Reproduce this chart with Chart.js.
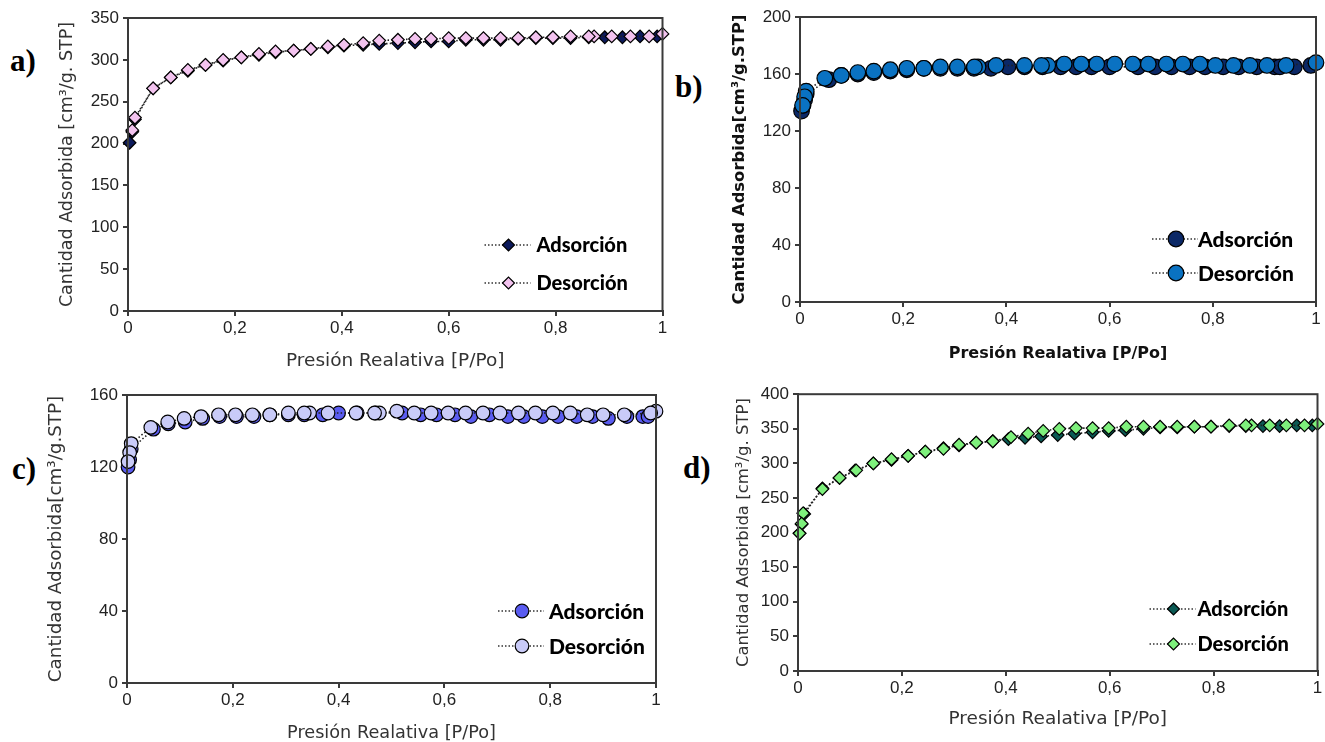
<!DOCTYPE html>
<html>
<head>
<meta charset="utf-8">
<script src="https://cdn.jsdelivr.net/npm/chart.js@4.4.1/dist/chart.umd.min.js"></script>
<style>
html,body{margin:0;padding:0;background:#fff;overflow:hidden;width:1325px;height:742px;}
.panel{position:absolute;}
.lbl{position:absolute;font-family:"Liberation Serif","Times New Roman",serif;font-weight:bold;font-size:31px;color:#000;line-height:1;}
</style>
</head>
<body>
<div class="lbl" style="left:10px;top:45px;">a)</div>
<div class="lbl" style="left:675px;top:71px;">b)</div>
<div class="lbl" style="left:12px;top:453px;">c)</div>
<div class="lbl" style="left:683px;top:452px;">d)</div>
<div class="panel" style="left:40px;top:0px;width:630px;height:375px;"><canvas id="ca"></canvas></div>
<div class="panel" style="left:700px;top:0px;width:625px;height:375px;"><canvas id="cb"></canvas></div>
<div class="panel" style="left:40px;top:380px;width:630px;height:372px;"><canvas id="cc"></canvas></div>
<div class="panel" style="left:700px;top:380px;width:625px;height:362px;"><canvas id="cd"></canvas></div>
<script>
// ---------------- DATA ----------------
const xTitle = "Presión Realativa [P/Po]";
const yTitleA = "Cantidad Adsorbida [cm³/g. STP]";
const yTitleB = "Cantidad Adsorbida[cm³/g.STP]";
const yTitleC = "Cantidad Adsorbida[cm³/g.STP]";
const yTitleD = "Cantidad Adsorbida [cm³/g. STP]";
const seriesNames = ["Adsorción", "Desorción"];

// a)
const aAdsX = [0.003,0.008,0.013,0.047,0.080,0.112,0.145,0.178,0.212,0.245,0.276,0.310,0.342,0.374,0.404,0.440,0.470,0.505,0.537,0.567,0.600,0.632,0.665,0.697,0.730,0.763,0.795,0.828,0.862,0.892,0.925,0.958,0.990];
const aAdsY = [201,214,229,266,279,287,294,299,303,306,309,311,313,315,317,318,319,320,321,322,322,324,324,324,325,326,326,326,327,327,327,328,328];
const aDesX = [1.000,0.975,0.940,0.905,0.872,0.862,0.828,0.795,0.763,0.730,0.697,0.665,0.632,0.600,0.567,0.537,0.505,0.470,0.440,0.404,0.374,0.342,0.310,0.276,0.245,0.212,0.178,0.145,0.112,0.080,0.047,0.013,0.008];
const aDesY = [331,328,328,328,328,328,328,327,327,326,326,326,326,326,325,325,324,323,320,318,316,313,311,310,307,303,300,294,288,279,266,231,216];

// b)
const bAdsX = [0.003,0.006,0.009,0.012,0.056,0.080,0.112,0.143,0.175,0.207,0.240,0.272,0.305,0.337,0.370,0.403,0.435,0.470,0.505,0.535,0.565,0.600,0.655,0.688,0.720,0.755,0.785,0.820,0.850,0.885,0.920,0.930,0.958,0.990];
const bAdsY = [134,138,142,146,156,159,160,161,162,163,164,164,164,164,164,165,165,165,165,165,165,165,165,165,165,165,165,165,165,165,165,165,165,166];
const bDesX = [1.000,0.942,0.905,0.872,0.840,0.805,0.775,0.742,0.710,0.675,0.645,0.610,0.575,0.545,0.512,0.480,0.468,0.435,0.380,0.345,0.338,0.305,0.272,0.240,0.207,0.175,0.143,0.112,0.080,0.048,0.012,0.009,0.005];
const bDesY = [168,166,166,166,166,166,167,167,167,167,167,167,167,167,167,166,166,166,166,165,165,165,165,164,164,163,162,161,159,157,148,144,138];

// c)
const cAdsX = [0.002,0.005,0.008,0.050,0.078,0.110,0.143,0.175,0.207,0.240,0.270,0.305,0.335,0.370,0.400,0.435,0.470,0.520,0.555,0.585,0.620,0.650,0.685,0.720,0.750,0.785,0.815,0.850,0.880,0.910,0.945,0.975,0.985];
const cAdsY = [120,124,130,141,144,145,147,148,148,148,149,149,149,149,150,150,150,150,149,149,149,148,149,148,148,148,148,148,148,147,148,148,148];
const cDesX = [1.000,0.990,0.940,0.900,0.870,0.838,0.805,0.772,0.740,0.705,0.673,0.640,0.607,0.575,0.543,0.510,0.477,0.468,0.433,0.380,0.345,0.335,0.305,0.270,0.237,0.205,0.173,0.140,0.108,0.077,0.045,0.008,0.005,0.002];
const cDesY = [151,150,149,149,149,150,150,150,150,150,150,150,150,150,150,151,150,150,150,150,150,150,150,149,149,149,149,148,147,145,142,133,128,123];

// d)
const dAdsX = [0.003,0.007,0.012,0.047,0.080,0.110,0.145,0.180,0.212,0.245,0.280,0.310,0.343,0.375,0.405,0.437,0.468,0.500,0.532,0.567,0.598,0.630,0.665,0.697,0.730,0.763,0.795,0.830,0.862,0.895,0.927,0.960,0.990];
const dAdsY = [199,212,227,264,279,290,300,305,311,317,322,326,330,332,335,337,339,341,343,345,347,348,350,352,352,353,353,354,354,354,354,355,355];
const dDesX = [1.000,0.975,0.940,0.908,0.873,0.862,0.830,0.795,0.763,0.730,0.697,0.665,0.632,0.598,0.567,0.535,0.503,0.472,0.443,0.410,0.375,0.343,0.310,0.280,0.245,0.212,0.180,0.145,0.112,0.080,0.047,0.010,0.007,0.003];
const dDesY = [357,355,355,355,355,355,355,353,353,353,353,353,353,351,351,351,350,347,343,338,332,330,327,321,317,311,306,300,290,279,263,228,213,199];

const xTicksMax = 1, xStep = 0.2;
// --------------------------------------

const tickFont = {family:'"Liberation Sans Narrow","Arial Narrow","Liberation Sans",sans-serif', size:17};
const titleFamily = '"DejaVu Sans","Noto Sans",sans-serif';
const toPts = (xs, ys) => xs.map((x,i)=>({x:x, y:ys[i]}));
const comma = v => String(Math.round(v*10)/10).replace('.', ',');

const framePlugin = {
  id:'frame',
  afterDraw(chart){
    const {ctx, chartArea:a} = chart;
    ctx.save();
    ctx.strokeStyle='#3a3a3a'; ctx.lineWidth=2;
    ctx.strokeRect(a.left, a.top, a.right-a.left, a.bottom-a.top);
    ctx.restore();
  }
};

const legendPlugin = {
  id:'isoLegend',
  afterDraw(chart, args, opts){
    const {ctx, chartArea:a} = chart;
    const ds = chart.data.datasets;
    ctx.save();
    opts.order.forEach((di, row) => {
      const d = ds[di];
      const y = a.bottom + opts.rows[row];
      const mx = a.right + opts.markerDx;
      ctx.strokeStyle='#333'; ctx.lineWidth=1.5; ctx.setLineDash([1.5,2]);
      ctx.beginPath(); ctx.moveTo(mx-24, y); ctx.lineTo(mx+22, y); ctx.stroke();
      ctx.setLineDash([]);
      ctx.fillStyle = d.pointBackgroundColor; ctx.strokeStyle = '#000'; ctx.lineWidth = 1.2;
      Chart.helpers.drawPoint(ctx, {pointStyle:d.pointStyle, radius:opts.markerR, borderWidth:1.2}, mx, y);
      ctx.fillStyle='#000';
      ctx.font = '900 ' + opts.fontSize + 'px Lato, "Noto Sans", sans-serif';
      ctx.textBaseline='middle'; ctx.textAlign='left';
      ctx.fillText(d.label, a.right + opts.textDx, y+1);
    });
    ctx.restore();
  }
};

function makeChart(id, cfg){
  const mkDs = (label, pts, bg, order) => ({
    label, data: pts, showLine:true, order,
    borderColor:'#222', borderWidth:1.6, borderDash:[1.5,2.2],
    pointStyle: cfg.style, pointRadius: cfg.r, pointHoverRadius: cfg.r,
    pointBackgroundColor: bg, pointBorderColor:'#000', pointBorderWidth:1.2,
    tension:0, clip:false
  });
  return new Chart(document.getElementById(id), {
    type:'scatter',
    data:{datasets:[
      mkDs(seriesNames[0], cfg.ads, cfg.adsColor, 1),
      mkDs(seriesNames[1], cfg.des, cfg.desColor, 0)
    ]},
    options:{
      responsive:true, maintainAspectRatio:false, animation:false,
      layout:{padding:{left:0, right:cfg.padR, top:cfg.padT, bottom:0}},
      plugins:{legend:{display:false}, tooltip:{enabled:false},
        isoLegend: cfg.legend},
      scales:{
        x:{type:'linear', min:0, max:xTicksMax,
          ticks:{stepSize:xStep, font:tickFont, color:'#222', padding:2, maxRotation:0, callback:v=>comma(v)},
          grid:{display:true, drawOnChartArea:false, drawTicks:true, tickLength:5, color:'#3a3a3a', lineWidth:2},
          border:{display:true, color:'#3a3a3a', width:2},
          title:{display:true, text:xTitle, color:cfg.titleColor, font:{family:titleFamily, size:cfg.xTitleSize, weight:cfg.titleWeight, lineHeight:1.2}, padding:{top:0,bottom:cfg.xTitlePad}},
          afterFit(s){ s.height = cfg.xH; }
        },
        y:{type:'linear', min:0, max:cfg.ymax,
          ticks:{stepSize:cfg.ystep, font:tickFont, color:'#222', padding:4},
          grid:{display:true, drawOnChartArea:false, drawTicks:true, tickLength:5, color:'#3a3a3a', lineWidth:2},
          border:{display:true, color:'#3a3a3a', width:2},
          title:{display:true, text:cfg.yTitle, color:cfg.titleColor, font:{family:titleFamily, size:cfg.yTitleSize, weight:cfg.titleWeight, lineHeight:1.2}, padding:{top:cfg.yTitlePad,bottom:0}},
          afterFit(s){ s.width = cfg.yW; }
        }
      }
    },
    plugins:[framePlugin, legendPlugin]
  });
}

makeChart('ca', {
  ads: toPts(aAdsX,aAdsY), des: toPts(aDesX,aDesY),
  adsColor:'#0c1a5c', desColor:'#f3c3ef', style:'rectRot', r:6.3,
  ymax:350, ystep:50, yTitle:yTitleA,
  padR:6, padT:18, xH:64, yW:88, xTitlePad:3, yTitlePad:17,
  titleColor:'#333', xTitleSize:18.5, yTitleSize:17.5, titleWeight:'normal',
  legend:{order:[0,1], rows:[-66,-28], markerDx:-154, textDx:-126, markerR:6, fontSize:20}
});
makeChart('cb', {
  ads: toPts(bAdsX,bAdsY), des: toPts(bDesX,bDesY),
  adsColor:'#0b2866', desColor:'#0a72c2', style:'circle', r:7.8,
  ymax:200, ystep:40, yTitle:yTitleB,
  padR:3, padT:17, xH:73, yW:100, xTitlePad:12, yTitlePad:30,
  titleColor:'#111', xTitleSize:16, yTitleSize:16.4, titleWeight:'bold',
  legend:{order:[0,1], rows:[-63,-29], markerDx:-140, textDx:-118, markerR:7.8, fontSize:21}
});
makeChart('cc', {
  ads: toPts(cAdsX,cAdsY), des: toPts(cDesX,cDesY),
  adsColor:'#5a5cf0', desColor:'#c9cbf8', style:'circle', r:6.8,
  ymax:160, ystep:40, yTitle:yTitleC,
  padR:14, padT:15, xH:69, yW:87, xTitlePad:8, yTitlePad:5,
  titleColor:'#333', xTitleSize:17.7, yTitleSize:18.3, titleWeight:'normal',
  legend:{order:[0,1], rows:[-72,-37], markerDx:-134, textDx:-107, markerR:6.8, fontSize:21}
});
makeChart('cd', {
  ads: toPts(dAdsX,dAdsY), des: toPts(dDesX,dDesY),
  adsColor:'#0b5a54', desColor:'#7ef07c', style:'rectRot', r:6.3,
  ymax:400, ystep:50, yTitle:yTitleD,
  padR:6, padT:9, xH:71, yW:98, xTitlePad:12, yTitlePad:34,
  titleColor:'#333', xTitleSize:18.5, yTitleSize:16.5, titleWeight:'normal',
  legend:{order:[0,1], rows:[-62,-27], markerDx:-144, textDx:-120, markerR:6, fontSize:20}
});
</script>
</body>
</html>
